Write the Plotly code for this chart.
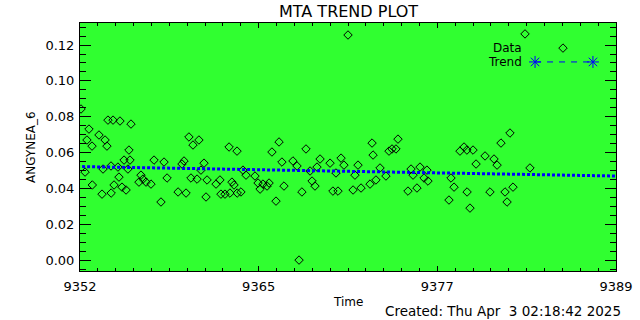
import plotly.graph_objects as go

# ---- data ----
time = [9352.07, 9352.35, 9352.48, 9352.62, 9352.83, 9352.85, 9353.31, 9353.52, 9353.59, 9353.73,
        9353.86, 9353.93, 9354.14, 9354.15, 9354.28, 9354.35, 9354.62, 9354.69, 9354.76, 9354.90,
        9355.04, 9355.18, 9355.31, 9355.38, 9355.45, 9355.52, 9356.07, 9356.21, 9356.35, 9356.56,
        9356.90, 9357.11, 9357.59, 9357.80, 9358.01, 9358.77, 9359.04, 9359.18, 9359.32, 9359.52,
        9359.66, 9359.80, 9360.08, 9360.21, 9360.35, 9360.56, 9360.70, 9360.77, 9361.39, 9361.66,
        9361.73, 9362.01, 9362.29, 9362.35, 9362.49, 9362.63, 9362.84, 9362.85, 9363.11, 9363.25,
        9363.46, 9364.08, 9364.29, 9364.43, 9364.63, 9364.91, 9365.05, 9365.25, 9365.53, 9365.74,
        9365.94, 9366.08, 9366.70, 9366.98, 9367.12, 9367.32, 9367.60, 9367.88, 9368.02, 9368.22,
        9368.36, 9368.57, 9369.26, 9369.46, 9369.67, 9369.81, 9370.02, 9370.22, 9370.50, 9370.85,
        9370.98, 9371.19, 9371.40, 9372.02, 9372.16, 9372.23, 9372.43, 9372.71, 9373.12, 9373.33,
        9373.54, 9373.81, 9373.95, 9374.64, 9374.85, 9374.99, 9375.26, 9375.47, 9375.75, 9375.95,
        9376.02, 9377.47, 9377.61, 9377.82, 9378.23, 9378.51, 9378.71, 9378.72, 9378.92, 9379.13,
        9379.34, 9379.96, 9380.30, 9380.58, 9380.79, 9381.06, 9381.34, 9381.48, 9381.68, 9381.89,
        9382.72, 9383.06, 9385.34]
angynea_6 = [0.0843, 0.0491, 0.0670, 0.0731, 0.0636, 0.0419, 0.0698, 0.0368, 0.0508, 0.0670,
             0.0636, 0.0781, 0.0525, 0.0374, 0.0781, 0.0419, 0.0519, 0.0463, 0.0776, 0.0407,
             0.0558, 0.0391, 0.0508, 0.0614, 0.0558, 0.0759, 0.0435, 0.0474, 0.0452, 0.0435,
             0.0424, 0.0558, 0.0324, 0.0547, 0.0458, 0.0380, 0.0536, 0.0553, 0.0374, 0.0687,
             0.0458, 0.0642, 0.0452, 0.0670, 0.0502, 0.0541, 0.0352, 0.0447, 0.0424, 0.0447,
             0.0368, 0.0368, 0.0631, 0.0374, 0.0435, 0.0419, 0.0608, 0.0374, 0.0380, 0.0502,
             0.0474, 0.0469, 0.0430, 0.0396, 0.0424, 0.0413, 0.0430, 0.0603, 0.0329, 0.0659,
             0.0547, 0.0413, 0.0553, 0.0525, 0.0000, 0.0380, 0.0620, 0.0497, 0.0441, 0.0413,
             0.0519, 0.0564, 0.0541, 0.0385, 0.0486, 0.0385, 0.0569, 0.0530, 0.1256, 0.0391,
             0.0474, 0.0530, 0.0402, 0.0424, 0.0653, 0.0586, 0.0447, 0.0514, 0.0469, 0.0608,
             0.0620, 0.0620, 0.0675, 0.0385, 0.0508, 0.0474, 0.0402, 0.0519, 0.0458, 0.0502,
             0.0441, 0.0335, 0.0458, 0.0407, 0.0608, 0.0631, 0.0614, 0.0380, 0.0290, 0.0614,
             0.0536, 0.0581, 0.0380, 0.0564, 0.0530, 0.0653, 0.0380, 0.0324, 0.0709, 0.0407,
             0.1262, 0.0514, 0.1183]

trend_time = [9351.8, 9389.0]
trend_value = [0.0522, 0.0469]

x_range = [9352.0, 9389.0]
y_range = [-0.0061, 0.1323]
x_ticktext = ["9352", "9365", "9377", "9389"]
y_tickvals = [0.00, 0.02, 0.04, 0.06, 0.08, 0.10, 0.12]

title_text = "MTA TREND PLOT"
y_title = "ANGYNEA_6"
x_title = "Time"
created_text = "Created: Thu Apr\u00a0\u00a03 02:18:42 2025"

# ---- figure ----
GREEN = "#30ff30"
BLUE = "#0000ff"
FONT = "DejaVu Sans"

span = x_range[1] - x_range[0]
x_tickvals = [x_range[0] + i * span / 3 for i in range(4)]

fig = go.Figure()

fig.add_trace(go.Scatter(
    x=time, y=angynea_6, mode="markers",
    marker=dict(symbol="diamond-open", size=6.5, color="black", line=dict(width=1, color="black")),
    showlegend=False, hoverinfo="skip"))

fig.add_trace(go.Scatter(
    x=trend_time, y=trend_value, mode="lines",
    line=dict(color=BLUE, width=3, dash="3px,2px"),
    showlegend=False, hoverinfo="skip"))

# legend sample on an overlay axis in 0..1 units
fig.add_trace(go.Scatter(
    x=[0.849, 0.957], y=[0.843, 0.843], mode="lines+markers",
    xaxis="x2", yaxis="y2",
    line=dict(color=BLUE, width=1, dash="6px,6px"),
    marker=dict(symbol="asterisk-open", size=10, color=BLUE, line=dict(width=1, color=BLUE)),
    showlegend=False, hoverinfo="skip"))

axis_common = dict(showline=True, linecolor="black", linewidth=1, mirror="allticks",
                   ticks="inside", tickcolor="black", showgrid=False, zeroline=False,
                   tickfont=dict(family=FONT, size=13, color="black"))

fig.update_layout(
    width=640, height=320,
    margin=dict(l=80, r=24, t=23, b=49, autoexpand=False),
    paper_bgcolor="white", plot_bgcolor=GREEN,
    font=dict(family=FONT, color="black"),
    xaxis=dict(range=x_range, tickmode="array", tickvals=x_tickvals, ticktext=x_ticktext,
               ticklen=5, tickwidth=1, ticklabelstandoff=3,
               minor=dict(ticks="inside", ticklen=3, tickcolor="black", tickmode="linear",
                          tick0=x_range[0], dtick=span / 30, showgrid=False),
               **axis_common),
    yaxis=dict(range=y_range, tickmode="array", tickvals=y_tickvals, tickformat=".2f",
               ticklen=11, tickwidth=1, ticklabelstandoff=2,
               minor=dict(ticks="inside", ticklen=6, tickcolor="black", tickmode="linear",
                          tick0=0, dtick=0.005, showgrid=False),
               **axis_common),
    xaxis2=dict(overlaying="x", range=[0, 1], visible=False),
    yaxis2=dict(overlaying="y", range=[0, 1], visible=False),
    annotations=[
        dict(text=title_text, xref="paper", yref="paper", x=0.5, y=1.048,
             xanchor="center", yanchor="middle", showarrow=False, font=dict(size=16)),
        dict(text=y_title, xref="paper", yref="paper", x=-0.0914, y=0.5, textangle=-90,
             xanchor="center", yanchor="middle", showarrow=False, font=dict(size=12)),
        dict(text=x_title, xref="paper", yref="paper", x=0.5, y=-0.125,
             xanchor="center", yanchor="middle", showarrow=False, font=dict(size=12)),
        dict(text=created_text, xref="paper", yref="paper", x=1.013, y=-0.161,
             xanchor="right", yanchor="middle", showarrow=False, font=dict(size=13.5)),
        dict(text="Data", xref="paper", yref="paper", x=0.828, y=0.899,
             xanchor="right", yanchor="middle", showarrow=False, font=dict(size=12)),
        dict(text="Trend", xref="paper", yref="paper", x=0.828, y=0.843,
             xanchor="right", yanchor="middle", showarrow=False, font=dict(size=12)),
    ],
)

fig.write_html("out.html", config={"displayModeBar": False},
               post_script="document.body.style.margin='0';document.body.style.overflow='hidden';")
